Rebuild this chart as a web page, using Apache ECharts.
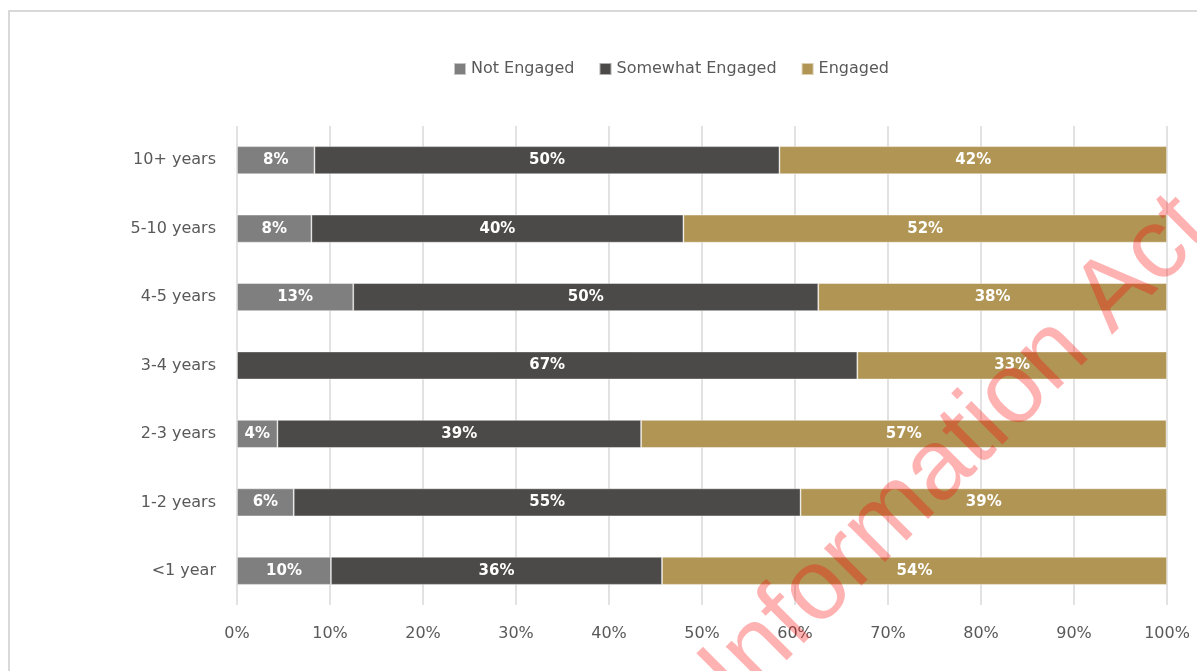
<!DOCTYPE html>
<html>
<head>
<meta charset="utf-8">
<script src="https://cdn.jsdelivr.net/npm/echarts@6/dist/echarts.min.js"></script>
<style>
  html, body { margin: 0; padding: 0; background: #ffffff; }
  #chart { width: 1197px; height: 671px; }
</style>
</head>
<body>
<div id="chart"></div>
<script>
// Tenure groups, listed bottom to top as on the category axis
const categories = ['<1 year', '1-2 years', '2-3 years', '3-4 years', '4-5 years', '5-10 years', '10+ years'];

// Share of respondents in each engagement level (percent)
const notEngaged      = [10.1, 6.1, 4.35, 0, 12.5, 8.0, 8.33];
const somewhatEngaged = [35.6, 54.5, 39.1, 66.7, 50.0, 40.0, 50.0];
const engaged         = [54.3, 39.4, 56.5, 33.3, 37.5, 52.0, 41.67];

const seriesNames = ['Not Engaged', 'Somewhat Engaged', 'Engaged'];
const seriesColors = ['#7f7f7f', '#4b4a48', '#b09554'];

const FONT = '"DejaVu Sans", Verdana, sans-serif';

const chart = echarts.init(document.getElementById('chart'), null, { renderer: 'canvas' });

function makeSeries(name, values, color) {
  return {
    name: name,
    type: 'bar',
    stack: 'total',
    barWidth: 28,
    data: values,
    itemStyle: { color: color, borderColor: 'rgba(255,255,255,0.55)', borderWidth: 0.8 },
    label: {
      show: true,
      position: 'inside',
      color: '#ffffff',
      fontFamily: FONT,
      fontWeight: 'bold',
      fontSize: 15,
      formatter: p => (p.value > 0 ? Math.round(p.value) + '%' : '')
    },
    emphasis: { disabled: true }
  };
}

chart.setOption({
  animation: false,
  backgroundColor: '#ffffff',
  legend: {
    left: 448,
    top: 56,
    itemWidth: 12,
    itemHeight: 12,
    itemGap: 24,
    icon: 'rect',
    textStyle: { color: '#595959', fontFamily: FONT, fontSize: 16 },
    data: seriesNames
  },
  grid: { left: 237, right: 30, top: 126, bottom: 66, containLabel: false },
  xAxis: {
    type: 'value',
    min: 0,
    max: 100,
    interval: 10,
    axisLine: { show: false },
    axisTick: { show: false },
    splitLine: { show: true, lineStyle: { color: '#d9d9d9', width: 1.5 } },
    axisLabel: {
      color: '#595959',
      fontFamily: FONT,
      fontSize: 16,
      margin: 21,
      formatter: v => v + '%'
    }
  },
  yAxis: {
    type: 'category',
    data: categories,
    axisLine: { show: false },
    axisTick: { show: false },
    axisLabel: { color: '#595959', fontFamily: FONT, fontSize: 16, margin: 21 }
  },
  series: [
    makeSeries(seriesNames[0], notEngaged, seriesColors[0]),
    makeSeries(seriesNames[1], somewhatEngaged, seriesColors[1]),
    makeSeries(seriesNames[2], engaged, seriesColors[2])
  ],
  graphic: [
    // chart frame
    {
      type: 'rect',
      shape: { x: 9, y: 11, width: 1300, height: 800 },
      style: { fill: 'none', stroke: '#d9d9d9', lineWidth: 2 },
      silent: true,
      z: 100
    },
    // diagonal stamp across the lower right
    {
      type: 'text',
      x: 719,
      y: 689,
      rotation: Math.PI / 4,
      silent: true,
      z: 200,
      style: {
        text: 'Information Act',
        font: '100px "Liberation Sans"',
        fill: 'rgba(255,0,0,0.3)',
        align: 'left',
        verticalAlign: 'middle'
      }
    }
  ]
});
</script>
</body>
</html>
